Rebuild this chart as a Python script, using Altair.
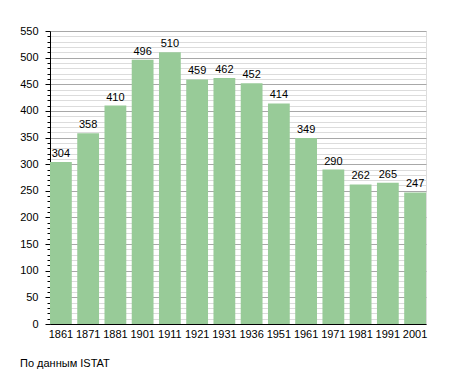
import altair as alt
import pandas as pd

years = ["1861", "1871", "1881", "1901", "1911", "1921", "1931", "1936",
         "1951", "1961", "1971", "1981", "1991", "2001"]
population = [304, 358, 410, 496, 510, 459, 462, 452, 414, 349, 290, 262, 265, 247]
y_ticks = list(range(0, 551, 10))

df = pd.DataFrame({"year": years, "pop": population})

FONT = "Liberation Sans"

x = alt.X("year:N", sort=years, title=None,
          scale=alt.Scale(paddingInner=0.2, paddingOuter=0),
          axis=alt.Axis(labelAngle=0, ticks=False, domainColor="#000",
                        labelFont=FONT, labelFontSize=11, labelColor="#000",
                        labelPadding=4, grid=False))
y = alt.Y("pop:Q", title=None,
          scale=alt.Scale(domain=[0, 550], nice=False),
          axis=alt.Axis(values=y_ticks, tickCount=len(y_ticks) + 5,
                        labelOverlap=False, labelFlush=False,
                        labelExpr="datum.value % 50 === 0 ? datum.label : ''",
                        gridColor=alt.condition("datum.value % 50 === 0",
                                                alt.value("#a8a8a8"), alt.value("#dcdcdc")),
                        tickSize=alt.condition("datum.value % 50 === 0",
                                               alt.value(5), alt.value(3)),
                        tickColor="#000", domainColor="#000",
                        labelFont=FONT, labelFontSize=11, labelColor="#000",
                        labelPadding=7))

bars = alt.Chart(df).mark_bar(color="#98cb98").encode(x=x, y=y)
labels = alt.Chart(df).mark_text(dy=-8, font=FONT, fontSize=11, color="#000").encode(
    x=alt.X("year:N", sort=years), y="pop:Q", text="pop:Q")

chart = (bars + labels).properties(
    width=376, height=293,
    title=alt.Title("По данным ISTAT", orient="bottom", anchor="start", frame="group",
                    dx=-30, offset=19, font=FONT, fontSize=11, fontWeight="normal",
                    color="#000"),
    autosize=alt.AutoSizeParams(type="none"),
    padding={"left": 42, "top": 23, "right": 20, "bottom": 50},
).configure_view(stroke=None).configure(background="white")

chart.save("out.html", embed_options={"renderer": "svg", "actions": False})
